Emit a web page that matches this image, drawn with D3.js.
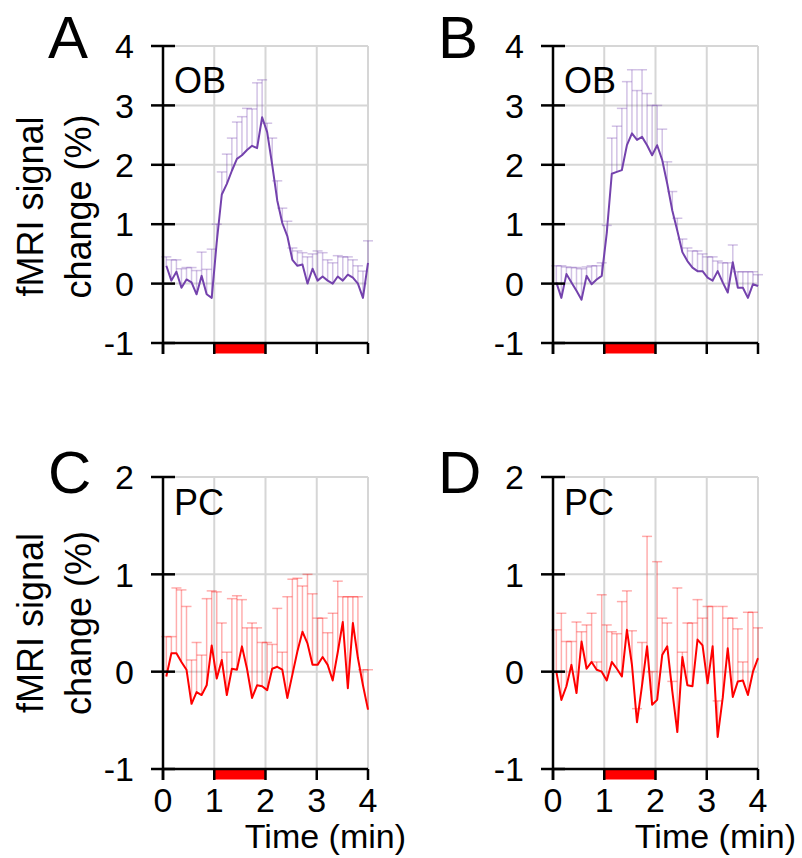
<!DOCTYPE html>
<html>
<head>
<meta charset="utf-8">
<script src="https://cdn.jsdelivr.net/npm/d3@7"></script>
<style>
  body { margin: 0; background: #fff; }
  svg { font-family: Arial, "Liberation Sans", sans-serif; }
</style>
</head>
<body>
<div id="chart"></div>
<script>
// time grid (min), 41 volumes from ~0.065 to 4.0
const nVol = 41;
const t0 = 0.065, tEnd = 4.0;
const timeMin = d3.range(nVol).map(i => t0 + i * (tEnd - t0) / (nVol - 1));

// Panel A: OB
const obA = [0.30,0.05,0.20,-0.07,0.07,0.02,-0.18,0.13,-0.18,-0.24,
  0.70,1.50,1.68,1.90,2.10,2.16,2.25,2.32,2.28,2.80,
  2.55,2.00,1.40,1.02,0.80,0.40,0.30,0.32,0.00,0.25,
  0.05,0.12,0.05,0.00,0.12,0.05,0.15,0.10,0.00,-0.24,0.35];
const obAErr = [0.15,0.35,0.20,0.32,0.20,0.25,0.40,0.40,0.42,0.82,
  0.30,0.38,0.50,0.55,0.62,0.65,0.70,0.62,1.10,0.63,
  0.15,0.45,0.33,0.25,0.25,0.20,0.25,0.20,0.45,0.25,
  0.50,0.40,0.35,0.35,0.35,0.40,0.30,0.30,0.30,0.45,0.37];

// Panel B: OB
const obB = [0.02,-0.24,0.16,0.02,-0.12,-0.27,0.13,-0.01,0.07,0.13,
  0.85,1.85,1.88,1.91,2.33,2.53,2.42,2.47,2.33,2.16,
  2.33,2.08,1.68,1.23,0.89,0.53,0.38,0.27,0.21,0.21,
  0.10,0.05,0.21,0.02,-0.15,0.36,-0.07,-0.07,-0.24,-0.01,-0.04];
const obBErr = [0.28,0.54,0.12,0.25,0.39,0.52,0.15,0.31,0.23,0.22,
  0.13,0.60,0.77,1.04,1.07,1.07,0.83,1.13,0.87,0.84,
  0.67,0.52,0.37,0.32,0.21,0.22,0.22,0.28,0.34,0.29,
  0.35,0.40,0.17,0.33,0.50,0.29,0.27,0.27,0.44,0.21,0.19];

// Panel C: PC
const pcC = [-0.05,0.19,0.19,0.10,0.02,-0.33,-0.21,-0.24,-0.14,0.27,
  -0.07,0.12,-0.24,0.03,0.02,0.26,0.03,-0.27,-0.14,-0.15,
  -0.19,0.03,0.05,0.02,-0.27,-0.03,0.21,0.41,0.29,0.07,
  0.07,0.15,0.07,-0.09,0.20,0.51,-0.17,0.50,0.14,-0.14,-0.39];
const pcCErr = [0.41,0.17,0.67,0.74,0.65,0.45,0.51,0.41,0.89,0.56,
  0.89,0.38,0.44,0.72,0.76,0.48,0.42,0.77,0.59,0.45,
  0.49,0.25,0.60,0.18,1.04,0.98,0.75,0.47,0.71,0.73,
  0.48,0.40,0.33,0.69,0.73,0.26,0.94,0.27,0.63,0.16,0.41];

// Panel D: PC
const pcD = [0.00,-0.29,-0.15,0.07,-0.22,0.31,0.03,0.10,0.02,0.00,
  -0.09,0.10,0.03,-0.05,0.43,0.07,-0.52,-0.14,0.26,-0.34,
  -0.29,0.17,0.26,-0.20,-0.62,0.15,-0.14,-0.15,0.33,0.27,
  -0.12,0.26,-0.67,-0.27,0.24,-0.26,-0.10,-0.09,-0.24,0.00,0.14];
const pcDErr = [0.43,0.89,0.46,0.24,0.73,0.10,0.45,0.50,0.08,0.79,
  0.57,0.31,0.36,0.77,0.40,0.35,0.14,0.44,1.13,0.34,
  1.42,0.38,0.24,0.10,1.48,0.05,0.64,0.65,0.41,0.28,
  0.79,0.41,0.37,0.94,0.31,0.81,0.54,0.19,0.85,0.61,0.31];

const xTicks = [0, 1, 2, 3, 4];
const stimulus = [1, 2];

const width = 802, height = 858;
const svg = d3.select('#chart').append('svg')
  .attr('width', width)
  .attr('height', height);

const panels = [
  { letter: 'A', region: 'OB', mean: obA, err: obAErr, left: 163, top: 46, bottom: 343,
    yDomain: [-1, 4], color: '#7442ad', errColor: '#7442ad', yLabel: true, xLabels: false },
  { letter: 'B', region: 'OB', mean: obB, err: obBErr, left: 553, top: 46, bottom: 343,
    yDomain: [-1, 4], color: '#7442ad', errColor: '#7442ad', yLabel: false, xLabels: false },
  { letter: 'C', region: 'PC', mean: pcC, err: pcCErr, left: 163, top: 477, bottom: 769,
    yDomain: [-1, 2], color: '#ff0000', errColor: '#ff0000', yLabel: true, xLabels: true },
  { letter: 'D', region: 'PC', mean: pcD, err: pcDErr, left: 553, top: 477, bottom: 769,
    yDomain: [-1, 2], color: '#ff0000', errColor: '#ff0000', yLabel: false, xLabels: true }
];
const plotW = 205;

panels.forEach(p => {
  const x = d3.scaleLinear().domain([0, 4]).range([p.left, p.left + plotW]);
  const y = d3.scaleLinear().domain(p.yDomain).range([p.bottom, p.top]);
  const yTicks = d3.range(p.yDomain[0], p.yDomain[1] + 1);
  const g = svg.append('g');

  // grid
  g.selectAll('.vgrid').data(xTicks.slice(1)).enter().append('line')
    .attr('x1', d => x(d)).attr('x2', d => x(d))
    .attr('y1', y(p.yDomain[1])).attr('y2', y(p.yDomain[0]))
    .attr('stroke', '#d6d6d6').attr('stroke-width', 2);
  g.selectAll('.hgrid').data(yTicks.slice(1)).enter().append('line')
    .attr('x1', x(0)).attr('x2', x(4))
    .attr('y1', d => y(d)).attr('y2', d => y(d))
    .attr('stroke', '#d6d6d6').attr('stroke-width', 2);

  // error bars (upper only)
  const eb = g.append('g').attr('stroke', p.errColor).attr('stroke-opacity', 0.32).attr('stroke-width', 1.5);
  p.mean.forEach((m, i) => {
    const xi = x(timeMin[i]);
    const yTop = y(m + p.err[i]);
    eb.append('line').attr('x1', xi).attr('x2', xi).attr('y1', y(m)).attr('y2', yTop);
    eb.append('line').attr('x1', xi - 5).attr('x2', xi + 5).attr('y1', yTop).attr('y2', yTop);
  });

  // mean line
  const line = d3.line().x((d, i) => x(timeMin[i])).y(d => y(d));
  g.append('path').datum(p.mean)
    .attr('d', line)
    .attr('fill', 'none')
    .attr('stroke', p.color)
    .attr('stroke-width', 2)
    .attr('stroke-linejoin', 'round');

  // stimulus bar
  g.append('rect')
    .attr('x', x(stimulus[0])).attr('y', p.bottom)
    .attr('width', x(stimulus[1]) - x(stimulus[0])).attr('height', 10.5)
    .attr('fill', '#ff0000');

  // y axis
  g.append('line')
    .attr('x1', x(0)).attr('x2', x(0))
    .attr('y1', p.top).attr('y2', p.bottom + 11)
    .attr('stroke', '#000').attr('stroke-width', 2.5);
  g.selectAll('.ytick').data(yTicks).enter().append('line')
    .attr('x1', x(0) - 12).attr('x2', x(0) + 12)
    .attr('y1', d => y(d)).attr('y2', d => y(d))
    .attr('stroke', '#000').attr('stroke-width', 2.5);
  g.selectAll('.ylab').data(yTicks).enter().append('text')
    .attr('x', x(0) - 29).attr('y', d => y(d))
    .attr('dy', '0.36em')
    .attr('text-anchor', 'end')
    .style('font-size', '34px')
    .text(d => d);

  // x axis
  g.append('line')
    .attr('x1', x(0)).attr('x2', x(4))
    .attr('y1', p.bottom).attr('y2', p.bottom)
    .attr('stroke', '#000').attr('stroke-width', 2.5);
  g.selectAll('.xtick').data(xTicks).enter().append('line')
    .attr('x1', d => x(d)).attr('x2', d => x(d))
    .attr('y1', p.bottom).attr('y2', p.bottom + 11)
    .attr('stroke', '#000').attr('stroke-width', 2.5);

  if (p.xLabels) {
    g.selectAll('.xlab').data(xTicks).enter().append('text')
      .attr('x', d => x(d)).attr('y', p.bottom + 43)
      .attr('text-anchor', 'middle')
      .style('font-size', '34px')
      .text(d => d);
    g.append('text')
      .attr('x', x(0) + 243).attr('y', p.bottom + 79)
      .attr('text-anchor', 'end')
      .style('font-size', '34px')
      .text('Time (min)');
  }

  if (p.yLabel) {
    const cy = (p.top + p.bottom) / 2 + (p.letter === 'A' ? 12 : 0);
    const lab = g.append('text')
      .attr('transform', `translate(0,${cy}) rotate(-90)`)
      .attr('text-anchor', 'middle')
      .style('font-size', '36px');
    lab.append('tspan').attr('x', 0).attr('y', 43).text('fMRI signal');
    lab.append('tspan').attr('x', 0).attr('y', 91).text('change (%)');
  }

  // panel letter and region label
  g.append('text')
    .attr('x', p.left - 115).attr('y', p.top + (p.letter === 'A' || p.letter === 'B' ? 12 : 16))
    .style('font-size', '60px')
    .text(p.letter);
  g.append('text')
    .attr('x', p.left + 11).attr('y', p.top + (p.region === 'OB' ? 47 : 38))
    .style('font-size', '36px')
    .text(p.region);
});
</script>
</body>
</html>
